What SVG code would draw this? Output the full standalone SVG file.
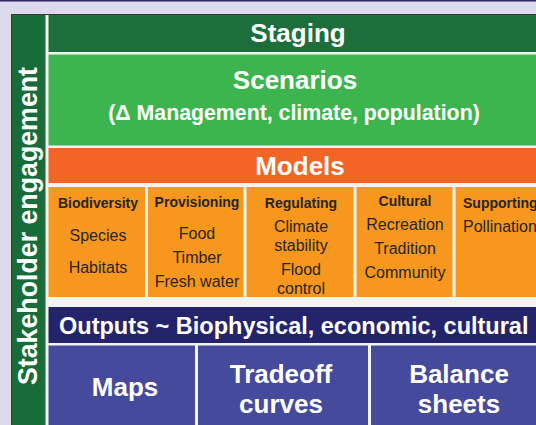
<svg xmlns="http://www.w3.org/2000/svg" width="536" height="425" viewBox="0 0 536 425">
<style>
text{font-family:"Liberation Sans",Arial,Helvetica,sans-serif;}
.w{fill:#ffffff;font-weight:bold;text-anchor:middle;}
.h{fill:#262626;font-weight:bold;font-size:14px;text-anchor:middle;}
.i{fill:#262626;font-size:16px;text-anchor:middle;}
.cat{fill:#f7971d;}
.blue{fill:#454a9c;}
</style>
<rect x="0" y="0" width="536" height="425" fill="#dddbeb"/>
<rect x="0" y="0" width="536" height="1.5" fill="#2e2466"/>
<rect x="11.5" y="14.5" width="525" height="411" fill="#f4f4ee" stroke="#3a3a3a" stroke-width="1"/>
<g id="stakeholder">
<rect x="12" y="15" width="33.5" height="410" fill="#1a6b3a"/>
<text class="w" transform="translate(37,226) rotate(-90)" font-size="27" textLength="318" lengthAdjust="spacingAndGlyphs">Stakeholder engagement</text>
</g>
<g id="staging">
<rect x="48.5" y="15" width="488" height="37" fill="#1c6e3b"/>
<text class="w" x="298" y="42" font-size="26">Staging</text>
</g>
<g id="scenarios">
<rect x="48.5" y="54.5" width="488" height="91" fill="#3db54e"/>
<text class="w" x="295" y="89" font-size="26">Scenarios</text>
<text class="w" x="294" y="120" font-size="21.3">(Δ Management, climate, population)</text>
</g>
<g id="models">
<rect x="48.5" y="148" width="488" height="35" fill="#f26524"/>
<text class="w" x="300" y="175" font-size="26">Models</text>
</g>
<g id="biodiversity">
<rect class="cat" x="48.5" y="187" width="96.5" height="110"/>
<text class="h" x="98" y="208">Biodiversity</text>
<text class="i" x="98" y="241">Species</text>
<text class="i" x="98" y="273">Habitats</text>
</g>
<g id="provisioning">
<rect class="cat" x="148" y="187" width="95.5" height="110"/>
<text class="h" x="197" y="207">Provisioning</text>
<text class="i" x="197" y="239">Food</text>
<text class="i" x="197" y="263">Timber</text>
<text class="i" x="197" y="287">Fresh water</text>
</g>
<g id="regulating">
<rect class="cat" x="246.5" y="187" width="107" height="110"/>
<text class="h" x="301" y="208">Regulating</text>
<text class="i" x="301" y="232">Climate</text>
<text class="i" x="301" y="251">stability</text>
<text class="i" x="301" y="275">Flood</text>
<text class="i" x="301" y="294">control</text>
</g>
<g id="cultural">
<rect class="cat" x="356.5" y="187" width="96" height="110"/>
<text class="h" x="405" y="206">Cultural</text>
<text class="i" x="405" y="230">Recreation</text>
<text class="i" x="405" y="254">Tradition</text>
<text class="i" x="405" y="278">Community</text>
</g>
<g id="supporting">
<rect class="cat" x="455.5" y="187" width="81" height="110"/>
<text class="h" x="463" y="208" style="text-anchor:start">Supporting</text>
<text class="i" x="463" y="232" style="text-anchor:start">Pollination</text>
</g>
<g id="outputs">
<rect x="48.5" y="307" width="488" height="36" fill="#24246c"/>
<text x="59" y="334" font-size="23.5" font-weight="bold" fill="#ffffff">Outputs ~ Biophysical, economic, cultural</text>
</g>
<g id="maps">
<rect class="blue" x="48.5" y="345.5" width="146.5" height="80"/>
<text class="w" x="125" y="396" font-size="26">Maps</text>
</g>
<g id="tradeoff">
<rect class="blue" x="198" y="345.5" width="170" height="80"/>
<text class="w" x="281" y="383" font-size="26">Tradeoff</text>
<text class="w" x="281" y="413" font-size="26">curves</text>
</g>
<g id="balance">
<rect class="blue" x="371" y="345.5" width="165" height="80"/>
<text class="w" x="459" y="383" font-size="26">Balance</text>
<text class="w" x="459" y="413" font-size="26">sheets</text>
</g>
<g id="connectors"></g>
</svg>
